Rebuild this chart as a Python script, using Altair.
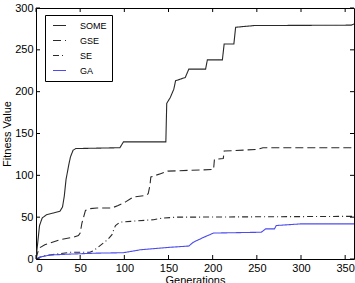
import altair as alt
import pandas as pd

series_names = ["SOME", "GSE", "SE", "GA"]

some_x = [0, 2, 4, 7, 12, 20, 27, 30, 32, 34, 37, 39, 42, 45, 95, 99, 147, 148, 152, 156, 158, 169, 173, 192, 194, 211, 213, 224, 226, 247, 357, 360]
some_y = [0, 20, 40, 49, 53, 55, 57, 62, 75, 95, 112, 122, 130, 132, 133, 140, 140, 186, 193, 203, 213, 217, 227, 227, 238, 238, 257, 257, 277, 279, 279.5, 281]

gse_x = [0, 2, 5, 10, 16, 27, 42, 48, 50, 52, 56, 60, 69, 86, 93, 101, 107, 110, 124, 127, 129, 130, 141, 149, 201, 202, 212, 213, 251, 257, 360]
gse_y = [0, 8, 14, 17, 19, 23, 26, 28, 31, 43, 58, 60, 61, 61, 64, 68, 72, 74, 76, 78, 88, 98, 102, 105, 107, 119, 120, 129, 131, 133, 133]

se_x = [0, 4, 10, 24, 39, 61, 65, 69, 75, 81, 86, 88, 90, 95, 107, 133, 144, 160, 167, 360]
se_y = [0, 2, 4, 6, 8, 8, 10, 13, 18, 23, 29, 35, 40, 44, 45, 47, 49, 50, 50, 51]

ga_x = [0, 5, 16, 42, 69, 99, 118, 152, 173, 178, 190, 201, 255, 260, 270, 272, 300, 360]
ga_y = [0, 2.4, 4.8, 6, 7, 7.5, 11, 14, 15.5, 20, 26, 31, 32, 36, 36, 40, 42, 42]

x_ticks = [0, 50, 100, 150, 200, 250, 300, 350]
y_ticks = [0, 50, 100, 150, 200, 250, 300]

rows = []
for name, xs, ys in [("SOME", some_x, some_y), ("GSE", gse_x, gse_y),
                     ("SE", se_x, se_y), ("GA", ga_x, ga_y)]:
    for i, (a, b) in enumerate(zip(xs, ys)):
        rows.append({"series": name, "gen": a, "fit": b, "order": i})
df = pd.DataFrame(rows)

W, H = 318, 251
FONT = "Liberation Sans"

xscale = alt.Scale(domain=[0, 360], nice=False, zero=False)
yscale = alt.Scale(domain=[0, 300], nice=False)

lines = alt.Chart(df).mark_line(strokeWidth=1.1, clip=True).encode(
    x=alt.X("gen:Q", scale=xscale, title="Generations",
            axis=alt.Axis(values=x_ticks, ticks=False, domain=False, grid=False,
                          labelPadding=3, titlePadding=1)),
    y=alt.Y("fit:Q", scale=yscale, title="Fitness Value",
            axis=alt.Axis(values=y_ticks, ticks=False, domain=False, grid=False,
                          labelPadding=3, titlePadding=2)),
    order="order:Q",
    color=alt.Color("series:N",
                    scale=alt.Scale(domain=series_names,
                                    range=["#2a2a2a", "#2a2a2a", "#2a2a2a", "#4b4bf0"]),
                    legend=alt.Legend(title=None)),
    strokeDash=alt.StrokeDash("series:N",
                              scale=alt.Scale(domain=series_names,
                                              range=[[1, 0], [8, 4], [6, 3, 1, 3], [1, 0]]),
                              legend=alt.Legend(title=None)),
)

xt = pd.DataFrame({"t": x_ticks})
yt = pd.DataFrame({"t": y_ticks})

xb = alt.Chart(xt).mark_rule(color="black", strokeWidth=1).encode(
    x=alt.X("t:Q", scale=xscale), y=alt.value(H), y2=alt.value(H - 4))
xtp = alt.Chart(xt).mark_rule(color="black", strokeWidth=1).encode(
    x=alt.X("t:Q", scale=xscale), y=alt.value(0), y2=alt.value(4))
yl = alt.Chart(yt).mark_rule(color="black", strokeWidth=1).encode(
    y=alt.Y("t:Q", scale=yscale), x=alt.value(0), x2=alt.value(4))
yr = alt.Chart(yt).mark_rule(color="black", strokeWidth=1).encode(
    y=alt.Y("t:Q", scale=yscale), x=alt.value(W), x2=alt.value(W - 4))

chart = alt.layer(lines, xb, xtp, yl, yr).properties(
    width=W, height=H,
    autosize=alt.AutoSizeParams(type="none"),
    padding={"left": 36, "top": 8, "right": 1, "bottom": 24},
).configure_view(stroke="black", strokeWidth=1).configure_axis(
    labelFont=FONT, titleFont=FONT, labelFontSize=11, titleFontSize=11,
    titleFontWeight="normal", labelColor="black", titleColor="black",
).configure_legend(
    orient="none", legendX=9, legendY=7, strokeColor="black", fillColor="white",
    padding=5, labelFont=FONT, labelFontSize=9, labelColor="black",
    symbolType="M-0.5,0H2.1", symbolSize=100, symbolStrokeWidth=1, rowPadding=4,
    labelOffset=19, cornerRadius=0,
)

chart.save("out.html", embed_options={"renderer": "svg", "actions": False})
